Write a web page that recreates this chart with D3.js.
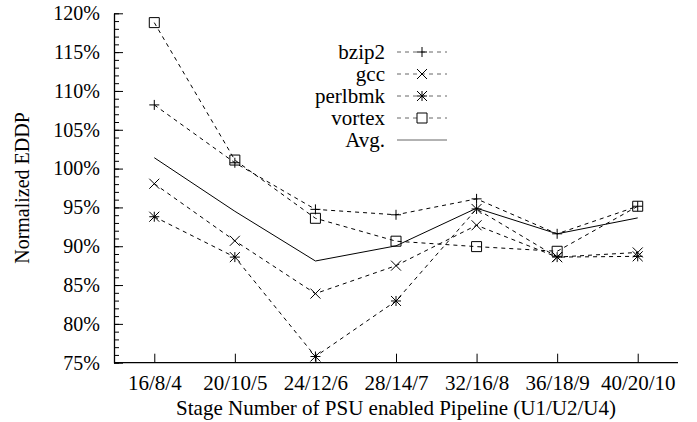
<!DOCTYPE html>
<html>
<head>
<meta charset="utf-8">
<script src="https://cdn.jsdelivr.net/npm/d3@7"></script>
<style>
  body { margin: 0; background: #fff; }
  svg { display: block; }
</style>
</head>
<body>
<div id="chart"></div>
<script>
// categories and values
const stages = ["16/8/4", "20/10/5", "24/12/6", "28/14/7", "32/16/8", "36/18/9", "40/20/10"];
const bzip2 = [108.2, 100.75, 94.75, 94.05, 96.1, 91.6, 95.15];
const gcc = [98.05, 90.7, 83.9, 87.5, 92.7, 88.6, 89.2];
const perlbmk = [93.8, 88.6, 75.8, 82.95, 94.8, 88.6, 88.7];
const vortex = [118.8, 101.1, 93.6, 90.65, 89.95, 89.35, 95.15];
const avg = [101.4, 94.5, 88.1, 90.05, 94.9, 91.6, 93.65];
const seriesNames = ["bzip2", "gcc", "perlbmk", "vortex", "Avg."];
const yTicks = [75, 80, 85, 90, 95, 100, 105, 110, 115, 120];

let width = 697, height = 422;
let plotLeft = 114, plotRight = 678, plotTop = 13.3, plotBottom = 362.7;
let serif = "Liberation Serif";

let svg = d3.select("#chart").append("svg")
  .attr("width", width)
  .attr("height", height)
  .style("font-family", serif);

// scales
let x = d3.scalePoint().domain(stages).range([plotLeft, plotRight]).padding(0.5);
let y = d3.scaleLinear().domain([75, 120]).range([plotBottom, plotTop]);

// marker shapes
function markerPath(kind, s) {
  let plus = `M${-s},0H${s}M0,${-s}V${s}`;
  let cross = `M${-s},${-s}L${s},${s}M${-s},${s}L${s},${-s}`;
  if (kind == "plus") return plus;
  if (kind == "cross") return cross;
  if (kind == "star") return plus + cross;
  if (kind == "square") return `M${-s},${-s}H${s}V${s}H${-s}Z`;
  return "";
}

let series = [
  {name: seriesNames[0], values: bzip2, marker: "plus", dash: "4,4"},
  {name: seriesNames[1], values: gcc, marker: "cross", dash: "4,4"},
  {name: seriesNames[2], values: perlbmk, marker: "star", dash: "4,4"},
  {name: seriesNames[3], values: vortex, marker: "square", dash: "4,4"},
  {name: seriesNames[4], values: avg, marker: null, dash: null}
];

// minor y ticks
svg.append("g")
  .attr("transform", `translate(${plotLeft},0)`)
  .call(d3.axisLeft(y).ticks(45).tickSizeInner(-5).tickSizeOuter(0).tickFormat(""))
  .call(g => g.select(".domain").remove())
  .selectAll("line").attr("stroke", "#000");

// major y axis
svg.append("g")
  .attr("transform", `translate(${plotLeft},0)`)
  .call(d3.axisLeft(y).tickValues(yTicks).tickSizeInner(-9).tickSizeOuter(0)
    .tickPadding(14).tickFormat(d => d + "%"))
  .call(g => g.selectAll("text").style("font-family", serif).style("font-size", "20px"))
  .call(g => g.select(".domain").attr("stroke-width", 1.3));

// x axis
svg.append("g")
  .attr("transform", `translate(0,${plotBottom})`)
  .call(d3.axisBottom(x).tickSizeInner(-9).tickSizeOuter(0).tickPadding(12))
  .call(g => g.selectAll("text").style("font-family", serif).style("font-size", "21px"))
  .call(g => g.select(".domain").attr("d", `M${plotLeft},0H${plotRight}`).attr("stroke-width", 1.3));

// axis titles
svg.append("text")
  .attr("x", (plotLeft + plotRight) / 2)
  .attr("y", 415)
  .attr("text-anchor", "middle")
  .style("font-family", serif)
  .style("font-size", "21px")
  .text("Stage Number of PSU enabled Pipeline (U1/U2/U4)");

svg.append("text")
  .attr("transform", "translate(29,188) rotate(-90)")
  .attr("text-anchor", "middle")
  .style("font-family", serif)
  .style("font-size", "20px")
  .text("Normalized EDDP");

// lines
let line = d3.line()
  .x((d, i) => x(stages[i]))
  .y(d => y(d));

series.forEach(s => {
  svg.append("path")
    .datum(s.values)
    .attr("d", line)
    .attr("fill", "none")
    .attr("stroke", "#000")
    .attr("stroke-width", 1)
    .attr("stroke-dasharray", s.dash);

  if (s.marker) {
    svg.append("g").selectAll("path")
      .data(s.values)
      .join("path")
      .attr("transform", (d, i) => `translate(${x(stages[i])},${y(d)})`)
      .attr("d", markerPath(s.marker, 5))
      .attr("fill", "none")
      .attr("stroke", "#000")
      .attr("stroke-width", 1);
  }
});

// legend
let legend = svg.append("g");
series.forEach((s, i) => {
  let ly = 52 + i * 22;
  legend.append("text")
    .attr("x", 385)
    .attr("y", ly)
    .attr("dy", "0.32em")
    .attr("text-anchor", "end")
    .style("font-family", serif)
    .style("font-size", "21px")
    .text(s.name);
  legend.append("line")
    .attr("x1", 397).attr("x2", 447)
    .attr("y1", ly).attr("y2", ly)
    .attr("stroke", "#000")
    .attr("stroke-opacity", 0.6)
    .attr("stroke-width", 1)
    .attr("stroke-dasharray", s.dash);
  if (s.marker) {
    legend.append("path")
      .attr("transform", `translate(422,${ly})`)
      .attr("d", markerPath(s.marker, 5))
      .attr("fill", "#fff")
      .attr("stroke", "#000");
  }
});
</script>
</body>
</html>
